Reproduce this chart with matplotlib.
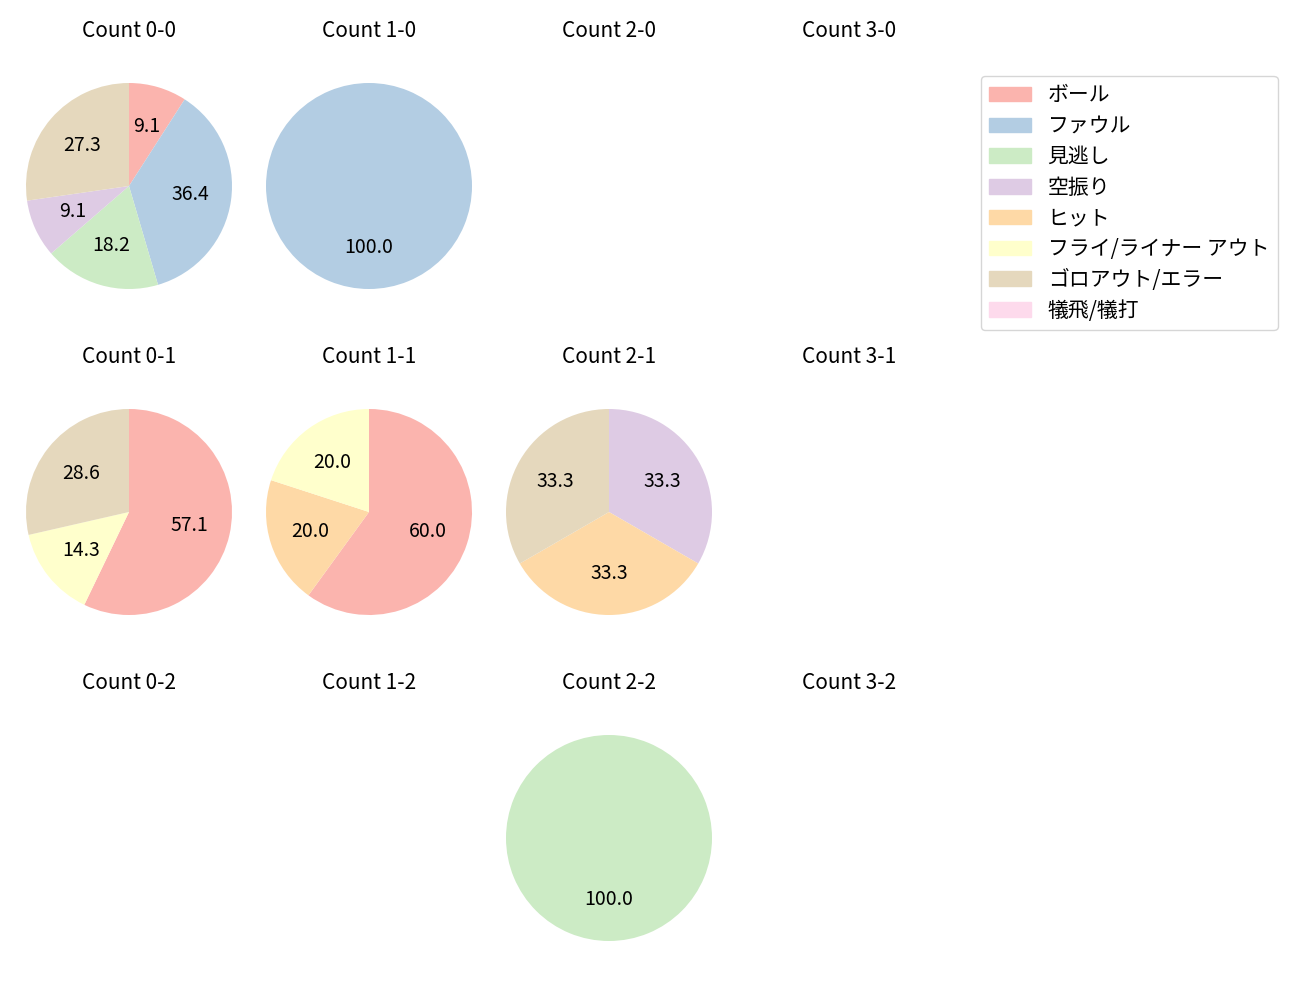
import matplotlib
matplotlib.use("Agg")
import matplotlib.pyplot as plt
import matplotlib.patches as mpatches

plt.rcParams['font.family'] = ['Noto Sans CJK JP', 'DejaVu Sans']

# categories and colours (Pastel1)
categorias = ["ボール", "ファウル", "見逃し", "空振り", "ヒット",
              "フライ/ライナー アウト", "ゴロアウト/エラー", "犠飛/犠打"]
cores = ["#fbb4ae", "#b3cde3", "#ccebc5", "#decbe4", "#fed9a6",
         "#ffffcc", "#e5d8bd", "#fddaec"]

# counts per ball-strike count, same order as categorias
contagens = {
    "0-0": [1, 4, 2, 1, 0, 0, 3, 0],
    "1-0": [0, 1, 0, 0, 0, 0, 0, 0],
    "2-0": [0, 0, 0, 0, 0, 0, 0, 0],
    "3-0": [0, 0, 0, 0, 0, 0, 0, 0],
    "0-1": [4, 0, 0, 0, 0, 1, 2, 0],
    "1-1": [3, 0, 0, 0, 1, 1, 0, 0],
    "2-1": [0, 0, 0, 1, 1, 0, 1, 0],
    "3-1": [0, 0, 0, 0, 0, 0, 0, 0],
    "0-2": [0, 0, 0, 0, 0, 0, 0, 0],
    "1-2": [0, 0, 0, 0, 0, 0, 0, 0],
    "2-2": [0, 0, 1, 0, 0, 0, 0, 0],
    "3-2": [0, 0, 0, 0, 0, 0, 0, 0],
}

W, H = 1300, 1000
fig = plt.figure(figsize=(13, 10), dpi=100)

raio = 103
lado = 2.5 * raio
for chave, valores in contagens.items():
    b, s = map(int, chave.split("-"))
    cx = 129 + 240 * b
    cy = 186 + 326 * s
    ax = fig.add_axes([(cx - lado / 2) / W, (H - cy - lado / 2) / H, lado / W, lado / H])
    ax.set_xlim(-1.25, 1.25)
    ax.set_ylim(-1.25, 1.25)
    ax.set_aspect("equal")
    ax.axis("off")
    ax.text(0.5, 0.5 + 155 / lado, "Count " + chave, transform=ax.transAxes,
            ha="center", va="center", fontsize=15)
    vals = [v for v in valores if v > 0]
    cs = [c for v, c in zip(valores, cores) if v > 0]
    if vals:
        ax.pie(vals, colors=cs, startangle=90, counterclock=False,
               autopct="%.1f", textprops={"fontsize": 14})
        ax.set_xlim(-1.25, 1.25)
        ax.set_ylim(-1.25, 1.25)

handles = [mpatches.Patch(color=c, label=l) for c, l in zip(cores, categorias)]
fig.legend(handles=handles, loc="upper left", bbox_to_anchor=(981 / W, 1 - 76 / H),
           borderaxespad=0, fontsize=15, handlelength=2.0, handletextpad=0.8,
           labelspacing=0.42, frameon=True)

fig.savefig("out.png", dpi=100)
